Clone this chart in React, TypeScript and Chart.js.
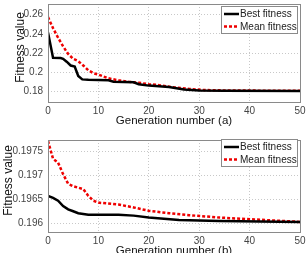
import React, { useEffect, useRef } from "react";
import { Chart, registerables } from "chart.js";
Chart.register(...registerables);

const topBestGen = [0, 1, 2.5, 3, 3.7, 4.5, 5.3, 6, 6.8, 8, 12, 13, 17, 18, 20, 24, 27, 30, 35, 50];
const topBestVal = [0.2415, 0.215, 0.2148, 0.214, 0.211, 0.207, 0.206, 0.196, 0.1925, 0.192, 0.1915, 0.19, 0.1895, 0.1875, 0.186, 0.1845, 0.182, 0.181, 0.1806, 0.1805];
const topMeanGen = [0, 1, 2, 3, 4, 5, 6, 7, 8, 9, 10, 11, 12, 14, 16, 18, 20, 22, 25, 28, 31, 35, 40, 50];
const topMeanVal = [0.2575, 0.246, 0.236, 0.227, 0.219, 0.214, 0.2115, 0.207, 0.202, 0.199, 0.1975, 0.1955, 0.1936, 0.1915, 0.19, 0.189, 0.1875, 0.1865, 0.1842, 0.1825, 0.1814, 0.181, 0.1808, 0.1806];

const botBestGen = [0, 1, 2, 3, 4, 5, 6, 8, 14, 17, 20, 26, 34, 42, 50];
const botBestVal = [0.19657, 0.19653, 0.19647, 0.19636, 0.19629, 0.19625, 0.19621, 0.19618, 0.19618, 0.19616, 0.19612, 0.19607, 0.19605, 0.19604, 0.19603];
const botMeanGen = [0, 1, 2, 3, 4, 5, 7, 8, 9, 10, 14, 17, 20, 24, 28, 34, 41, 50];
const botMeanVal = [0.19771, 0.19734, 0.19726, 0.19702, 0.19682, 0.19677, 0.19671, 0.19657, 0.19647, 0.19643, 0.19639, 0.19633, 0.19626, 0.19621, 0.19617, 0.19612, 0.19608, 0.19603];

const xTicks = [0, 10, 20, 30, 40, 50];
const topYTicks = [0.18, 0.2, 0.22, 0.24, 0.26];
const botYTicks = [0.196, 0.1965, 0.197, 0.1975];

const seriesLabels = ["Best fitness", "Mean fitness"];
const yTitle = "Fitness value";
const FONT = "'Liberation Sans', Arial, sans-serif";

const zip = (xs: number[], ys: number[]) => xs.map((x, i) => ({ x, y: ys[i] }));

const framePlugin = {
  id: "frameLegend",
  afterDraw(chart: any) {
    const { ctx, chartArea } = chart;
    const opts = chart.options.plugins.frameLegend || {};
    ctx.save();
    ctx.strokeStyle = "#8a8a8a";
    ctx.lineWidth = 1;
    ctx.setLineDash([]);
    ctx.strokeRect(Math.round(chartArea.left) + 0.5, Math.round(chartArea.top) + 0.5, Math.round(chartArea.right - chartArea.left), Math.round(chartArea.bottom - chartArea.top));
    // y title
    ctx.save();
    ctx.translate(opts.titleX, (chartArea.top + chartArea.bottom) / 2 - 5.5);
    ctx.rotate(-Math.PI / 2);
    ctx.fillStyle = "#111";
    ctx.font = `12px ${FONT}`;
    ctx.textAlign = "center";
    ctx.textBaseline = "middle";
    ctx.fillText(yTitle, 0, 0);
    ctx.restore();
    // legend
    const bw = 76, bh = 27;
    const bx = Math.round(chartArea.right - 3 - bw);
    const by = Math.round(chartArea.top + (opts.boxOffset ?? 2));
    ctx.fillStyle = "#ffffff";
    ctx.fillRect(bx, by, bw, bh);
    ctx.strokeStyle = "#8a8a8a";
    ctx.lineWidth = 1;
    ctx.strokeRect(bx + 0.5, by + 0.5, bw, bh);
    chart.data.datasets.forEach((ds: any, i: number) => {
      const cy = by + 8 + i * 12.5;
      ctx.strokeStyle = ds.borderColor;
      ctx.lineWidth = ds.borderWidth;
      ctx.setLineDash(ds.borderDash || []);
      ctx.beginPath();
      ctx.moveTo(bx + 3, cy);
      ctx.lineTo(bx + 18, cy);
      ctx.stroke();
      ctx.setLineDash([]);
      ctx.fillStyle = "#222";
      ctx.font = `10px ${FONT}`;
      ctx.textBaseline = "middle";
      ctx.textAlign = "left";
      ctx.fillText(ds.label, bx + 19, cy + 0.5);
    });
    ctx.restore();
  },
};

function buildConfig(best: any[], mean: any[], yMin: number, yMax: number, yTicks: number[], title: string, padTop: number, xHeight: number, boxOffset: number, titleX: number) {
  return {
    type: "line" as const,
    data: {
      datasets: [
        { label: seriesLabels[0], data: best, borderColor: "#000000", borderWidth: 2.5, pointRadius: 0, fill: false, tension: 0 },
        { label: seriesLabels[1], data: mean, borderColor: "#ee0000", borderWidth: 2.5, borderDash: [3, 2], pointRadius: 0, fill: false, tension: 0 },
      ],
    },
    options: {
      responsive: false,
      animation: false,
      devicePixelRatio: 1,
      layout: { padding: { left: 0, right: 8, top: padTop, bottom: 0 } },
      plugins: { legend: { display: false }, tooltip: { enabled: false }, frameLegend: { boxOffset, titleX } },
      scales: {
        x: {
          type: "linear",
          min: 0,
          max: 50,
          afterBuildTicks: (s: any) => { s.ticks = xTicks.map((v) => ({ value: v })); },
          afterFit: (s: any) => { s.height = xHeight; s.paddingLeft = 0; s.paddingRight = 0; },
          grid: { color: "#c8c8c8", drawTicks: false, lineWidth: 1 },
          border: { display: false, dash: [1, 2] },
          ticks: { padding: 3, color: "#444", font: { family: FONT, size: 10 }, maxRotation: 0 },
          title: { display: true, text: title, color: "#111", font: { family: FONT, size: 11.5, lineHeight: 1 }, padding: { top: 0, bottom: 0 } },
        },
        y: {
          type: "linear",
          min: yMin,
          max: yMax,
          afterBuildTicks: (s: any) => { s.ticks = yTicks.map((v) => ({ value: v })); },
          afterFit: (s: any) => { s.width = 48; s.paddingTop = 0; s.paddingBottom = 0; },
          grid: { color: "#c8c8c8", drawTicks: false, lineWidth: 1 },
          border: { display: false, dash: [1, 2] },
          ticks: {
            padding: 5,
            color: "#444",
            font: { family: FONT, size: 10 },
            callback: (v: any) => String(Number(Number(v).toFixed(5))),
          },
          title: { display: false },
        },
      },
    },
    plugins: [framePlugin],
  };
}

export default function App() {
  const topRef = useRef<HTMLCanvasElement>(null);
  const botRef = useRef<HTMLCanvasElement>(null);
  useEffect(() => {
    document.body.style.margin = "0";
    const c1 = new Chart(topRef.current as any, buildConfig(zip(topBestGen, topBestVal), zip(topMeanGen, topMeanVal), 0.1689, 0.2712, topYTicks, "Generation number (a)", 4, 25, 2, 20.5) as any);
    const c2 = new Chart(botRef.current as any, buildConfig(zip(botBestGen, botBestVal), zip(botMeanGen, botMeanVal), 0.19582, 0.19773, botYTicks, "Generation number (b)", 14, 25, -1, 8.5) as any);
    return () => { c1.destroy(); c2.destroy(); };
  }, []);
  return (
    <div style={{ position: "absolute", left: 0, top: 0, width: 308, height: 253, overflow: "hidden", background: "#fff" }}>
      <canvas ref={topRef} width={308} height={127} style={{ position: "absolute", left: 0, top: 0, width: 308, height: 127 }} />
      <canvas ref={botRef} width={308} height={131} style={{ position: "absolute", left: 0, top: 126, width: 308, height: 131 }} />
    </div>
  );
}
